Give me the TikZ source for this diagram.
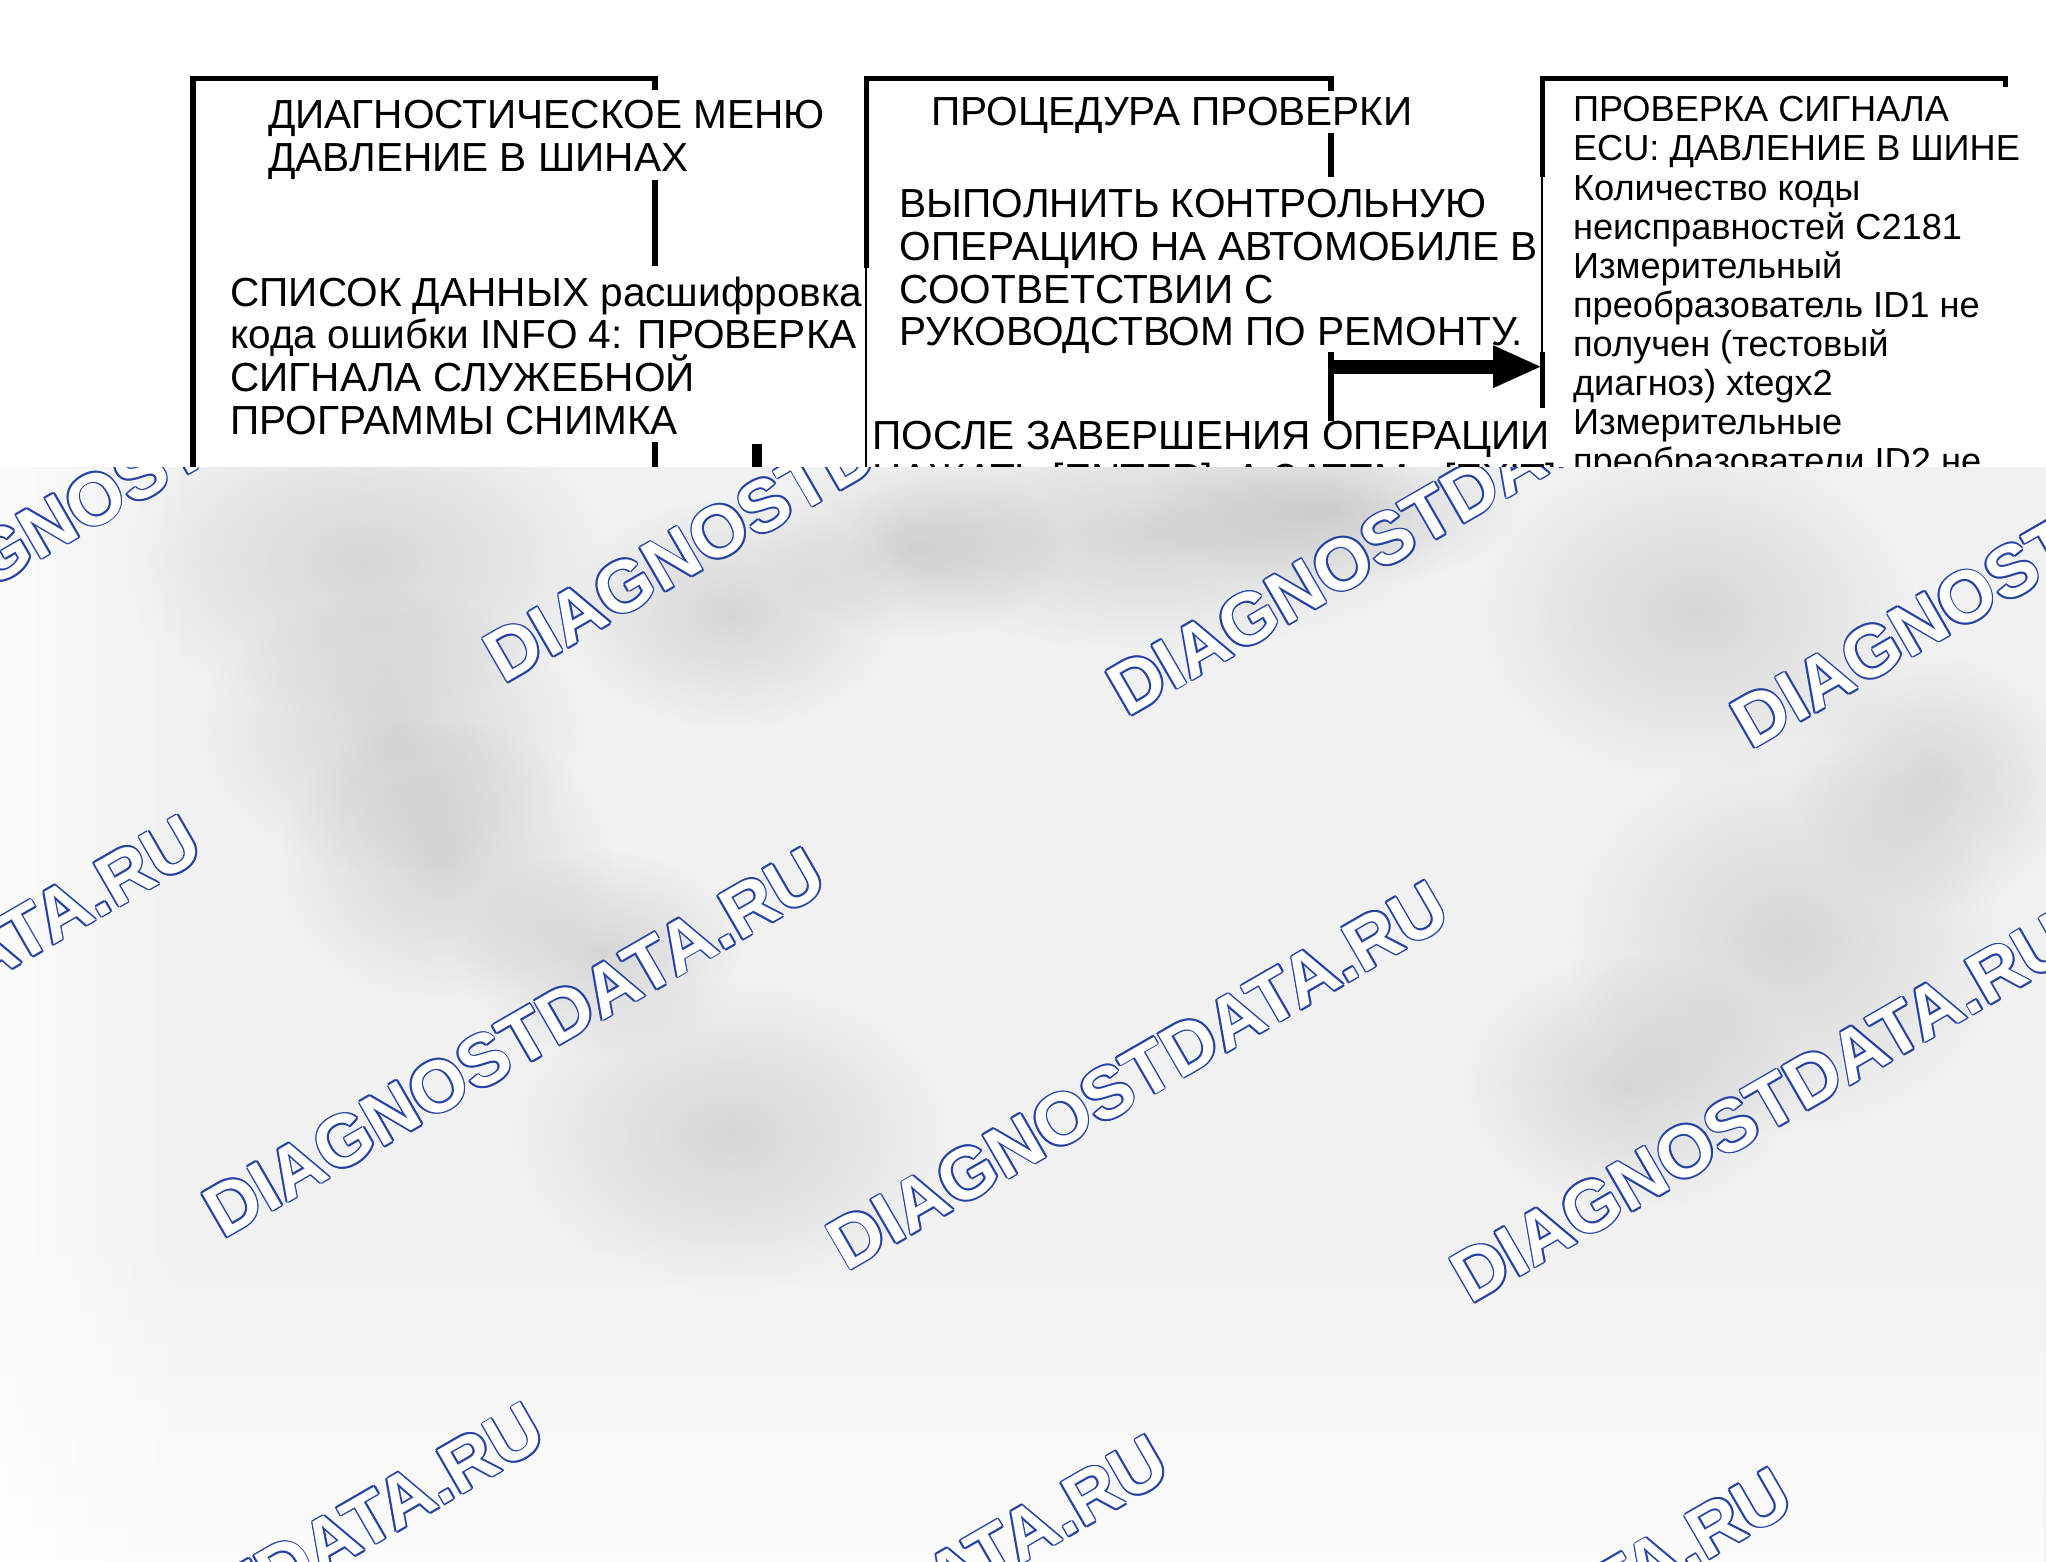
\documentclass[tikz,border=0pt]{standalone}
\usepackage{fontspec}
\setmainfont{Liberation Sans}
\usetikzlibrary{arrows.meta,fadings}
\setlength{\lineskiplimit}{-6pt}

\definecolor{wmblue}{HTML}{2442A4}
\definecolor{haze}{HTML}{F1F1F1}

\tikzfading[name=blobfade, inner color=transparent!20, outer color=transparent!100]
\tikzfading[name=fadedown, top color=transparent!100, bottom color=transparent!20]
\tikzfading[name=fadeleft, left color=transparent!30, right color=transparent!100]

\begin{document}
\begin{tikzpicture}[x=0.01305cm,y=-0.01305cm,
  frame/.style={line width=1.5pt},
  hair/.style={line width=0.6pt},
  bigtext/.style={anchor=north west,inner sep=0pt,align=left,font=\fontsize{11.55pt}{12.2pt}\selectfont},
  smalltext/.style={anchor=north west,inner sep=0pt,align=left,font=\fontsize{10.3pt}{11.1pt}\selectfont},
  wmark/.style={rotate=30,inner sep=0pt,font=\fontsize{20.7pt}{21pt}\selectfont\bfseries},
  blob/.style={fill=black,fill opacity=0.14,path fading=blobfade}]
\useasboundingbox (0,0) rectangle (1568,1197);

\coordinate (menuNW) at (148,60);
\coordinate (menuNE) at (502,60);
\coordinate (procNW) at (664,60);
\coordinate (procNE) at (1020,60);
\coordinate (ecuNW) at (1182,60);
\coordinate (ecuNE) at (1537,60);
\coordinate (elbow) at (1020,281);

\draw[frame] (menuNW) ++(0,310) -- (menuNW) -- (menuNE) -- ++(0,9);
\draw[frame] (menuNE) ++(0,78) -- ++(0,66);
\draw[frame] (menuNE) ++(0,279) -- ++(0,30);
\draw[line width=3pt] (580,340) -- (580,370);

\draw[frame] (procNW) ++(0,145) -- (procNW) -- (procNE) -- ++(0,10);
\draw[hair] (procNW) ++(0,144) -- ++(0,166);
\draw[frame] (procNE) ++(0,42) -- ++(0,34);
\draw[frame] (procNE) ++(0,210) -- ++(0,53);
\draw[line width=4pt,-{Triangle[length=14pt,width=11pt]}] (elbow) -- (elbow -| ecuNW);

\draw[frame] (ecuNW) ++(0,76) -- (ecuNW) -- (ecuNE) -- ++(0,7);
\draw[hair] (ecuNW) ++(0,76) -- ++(0,134);
\draw[frame] (ecuNW) ++(0,210) -- ++(0,43);

\node[bigtext] (menutitle) at (205,75) {\strut ДИАГНОСТИЧЕСКОЕ МЕНЮ\\ДАВЛЕНИЕ В ШИНАХ};
\node[bigtext] (datalist) at (176,211) {\strut СПИСОК ДАННЫХ расшифровка\\кода ошибки INFO 4: ПРОВЕРКА\\СИГНАЛА СЛУЖЕБНОЙ\\ПРОГРАММЫ СНИМКА};
\node[bigtext] (proctitle) at (713,73) {\strut ПРОЦЕДУРА ПРОВЕРКИ};
\node[bigtext] (procrun) at (689,143) {\strut ВЫПОЛНИТЬ КОНТРОЛЬНУЮ\\ОПЕРАЦИЮ НА АВТОМОБИЛЕ В\\СООТВЕТСТВИИ С\\РУКОВОДСТВОМ ПО РЕМОНТУ.};
\node[bigtext] (procdone) at (668,321) {\strut ПОСЛЕ ЗАВЕРШЕНИЯ ОПЕРАЦИИ\\НАЖАТЬ [ENTER], А ЗАТЕМ - [EXIT]};
\node[smalltext] (ecucheck) at (1205,72) {\strut ПРОВЕРКА СИГНАЛА\\ECU: ДАВЛЕНИЕ В ШИНЕ\\Количество коды\\неисправностей C2181\\Измерительный\\преобразователь ID1 не\\получен (тестовый\\диагноз) xtegx2\\Измерительные\\преобразователи ID2 не};

\fill[haze] (0,358) rectangle (1568,1197);
\begin{scope}
\clip (0,358) rectangle (1568,1197);
\foreach \bx/\by/\rx/\ry in {280/430/190/120, 300/560/150/110, 340/660/130/110, 560/470/130/90,
  880/410/230/90, 1020/390/150/60, 1300/470/170/130, 1370/720/170/150, 1250/830/130/100,
  560/870/170/120, 460/730/110/80, 1480/600/110/100, 700/420/120/70}
  \fill[blob] (\bx,\by) ellipse ({\rx*0.01305cm} and {\ry*0.01305cm});
\fill[white,path fading=fadedown] (0,940) rectangle (1568,1197);
\fill[white,path fading=fadeleft] (0,358) rectangle (150,1197);
\foreach \i in {0,...,3}
  \foreach \j in {0,1,2} {
    \foreach \dx/\dy in {0.5/0,-0.5/0,0/0.5,0/-0.5,0.35/0.35,-0.35/0.35,0.35/-0.35,-0.35/-0.35}
      \node[wmark,text=wmblue,xshift=\dx pt,yshift=\dy pt] at ({131+478*\i-215*\j},{349+25*\i+425*\j}) {DIAGNOSTDATA.RU};
    \node[wmark,text=white] (wm\i\j) at ({131+478*\i-215*\j},{349+25*\i+425*\j}) {DIAGNOSTDATA.RU};
  }
\end{scope}
\end{tikzpicture}
\end{document}
